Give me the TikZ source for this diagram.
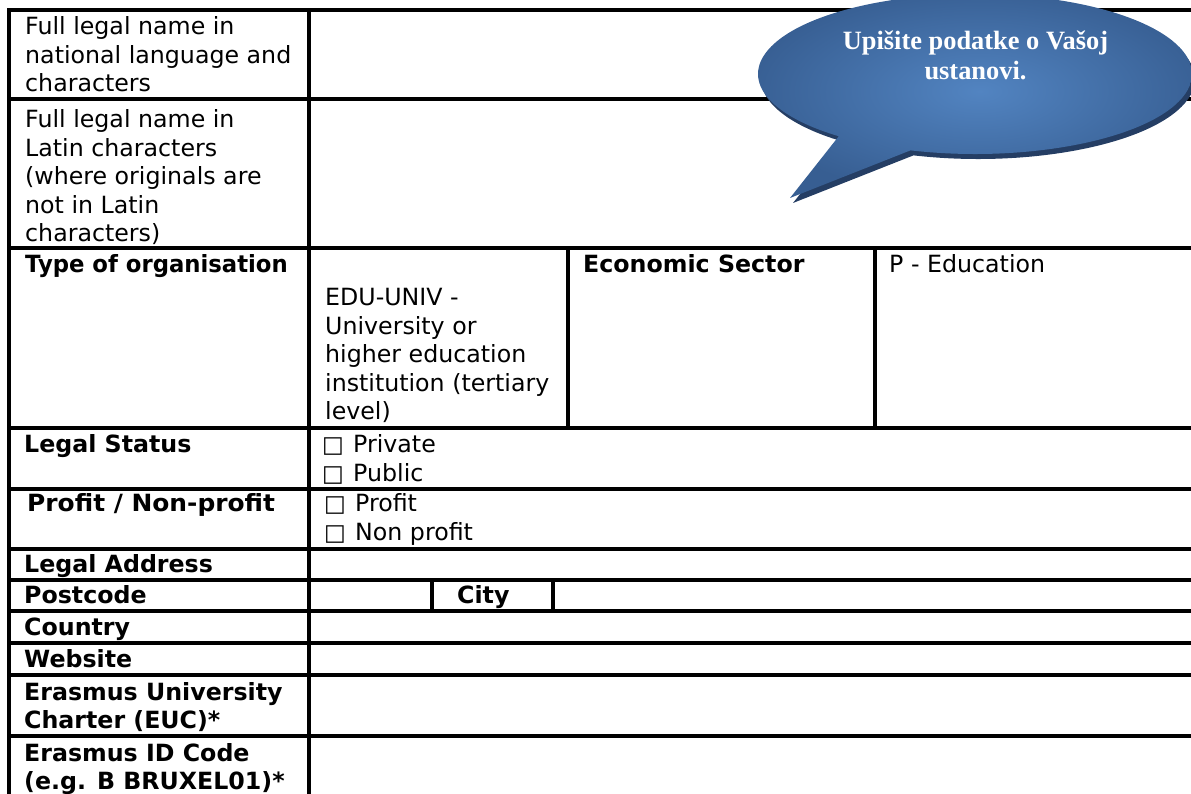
\documentclass[tikz,border=0pt]{standalone}
\usepackage{fontspec}
\setmainfont{DejaVu Sans}
\newfontfamily\calloutfont{Liberation Serif}
\definecolor{clight}{RGB}{82,132,193}
\definecolor{cdark}{RGB}{55,94,146}
\definecolor{cshadow}{RGB}{37,62,100}
\newcommand\calloutpath{(975,719) ++(252.7:217 and 80) arc[start angle=252.7, end angle=591.1, x radius=217, y radius=80] -- (790,595) -- cycle}
\begin{document}
\begin{tikzpicture}[x=1pt,y=1pt,
  tl/.style={line width=3.2pt, black, line cap=rect},
  txt/.style={anchor=base west, inner sep=0pt, font=\fontsize{23.7}{28.5}\selectfont},
  btxt/.style={anchor=base west, inner sep=0pt, font=\fontsize{23.7}{28.5}\selectfont\bfseries},
  boxg/.style={anchor=base west, inner sep=0pt, font=\fontsize{23}{26}\selectfont},
  ctxt/.style={anchor=base, inner sep=0pt, text=white, font=\calloutfont\fontsize{26.4}{30}\selectfont\bfseries}]
\useasboundingbox (0,0) rectangle (1191,793);
\begin{scope}
\clip (0,0) rectangle (1191,793);
% table grid
\foreach \yy in {10,99,248,428,489,549,580,611,643,675,736}
  \draw[tl] (9,793-\yy) -- (1200,793-\yy);
\draw[tl] (9,783) -- (9,-5);
\draw[tl] (309,783) -- (309,-5);
\draw[tl] (568,545) -- (568,365);
\draw[tl] (875,545) -- (875,365);
\draw[tl] (432,213) -- (432,182);
\draw[tl] (553,213) -- (553,182);
% row 1
\node[txt] (r1a) at (25,758) {Full legal name in};
\node[txt] (r1b) at (25,729.5) {national language and};
\node[txt] (r1c) at (25,701) {characters};
% row 2
\node[txt] (r2a) at (25,665) {Full legal name in};
\node[txt] (r2b) at (25,636.5) {Latin characters};
\node[txt] (r2c) at (25,608) {(where originals are};
\node[txt] (r2d) at (25,579.5) {not in Latin};
\node[txt] (r2e) at (25,551) {characters)};
% type row
\node[btxt, xscale=0.96, transform shape] (type) at (25,520) {Type of organisation};
\node[txt] (edu1) at (325,487) {EDU-UNIV -};
\node[txt] (edu2) at (325,458.5) {University or};
\node[txt] (edu3) at (325,430) {higher education};
\node[txt] (edu4) at (325,401.5) {institution (tertiary};
\node[txt] (edu5) at (325,373) {level)};
\node[btxt] (econ) at (583,520) {Economic Sector};
\node[txt] (peduc) at (889,520) {P - Education};
% legal status
\node[btxt] (lstat) at (24,340) {Legal Status};
\node[boxg] (b1) at (322,340) {□};
\node[txt] (priv) at (353,340) {Private};
\node[boxg] (b2) at (322,311) {□};
\node[txt] (pub) at (353,311) {Public};
% profit
\node[btxt, xscale=1.05, transform shape] (prof) at (27,281) {Profit / Non-profit};
\node[boxg] (b3) at (324,281) {□};
\node[txt] (pr1) at (355,281) {Profit};
\node[boxg] (b4) at (324,252) {□};
\node[txt] (pr2) at (355,252) {Non profit};
% other rows
\node[btxt] (laddr) at (24,221) {Legal Address};
\node[btxt] (pcode) at (24,190) {Postcode};
\node[btxt] (city) at (457,190) {City};
\node[btxt] (ctry) at (24,158) {Country};
\node[btxt] (web) at (24,126) {Website};
\node[btxt] (euc1) at (24,93) {Erasmus University};
\node[btxt] (euc2) at (24,64.5) {Charter (EUC)*};
\node[btxt] (eid1) at (24,32) {Erasmus ID Code};
\node[btxt] (eid2) at (24,3.5) {(e.g. B BRUXEL01)*};
% callout
\fill[cshadow, shift={(3,-5)}] \calloutpath;
\shade[inner color=clight, outer color=cdark] \calloutpath;
\node[ctxt] (c1) at (975.5,743.5) {Upišite podatke o Vašoj};
\node[ctxt] (c2) at (975.5,713) {ustanovi.};
\end{scope}
\end{tikzpicture}
\end{document}
